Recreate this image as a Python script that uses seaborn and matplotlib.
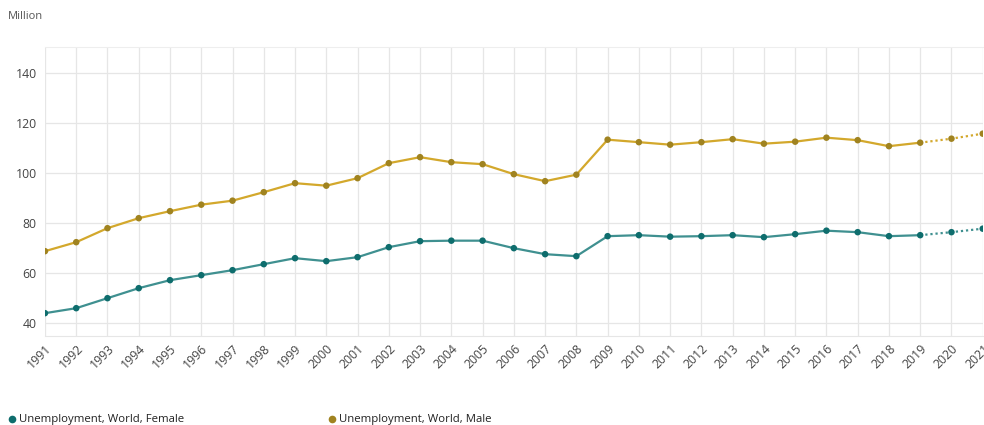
import pandas as pd
import matplotlib.pyplot as plt
import seaborn as sns
from matplotlib.lines import Line2D

years = list(range(1991, 2022))
female = [44.0, 46.0, 50.0, 54.0, 57.2, 59.2, 61.2, 63.6, 66.0, 64.8,
          66.4, 70.4, 72.8, 73.0, 73.0, 70.0, 67.6, 66.8, 74.8, 75.2,
          74.6, 74.8, 75.2, 74.4, 75.6, 77.0, 76.4, 74.8, 75.2, 76.4, 77.8]
male = [68.8, 72.4, 78.0, 82.0, 84.8, 87.4, 89.0, 92.4, 96.0, 95.0,
        98.0, 104.0, 106.4, 104.4, 103.6, 99.6, 96.8, 99.4, 113.4, 112.4,
        111.4, 112.4, 113.6, 111.8, 112.6, 114.2, 113.2, 110.8, 112.2, 113.8, 115.8]
last_actual = 2019

series = {
    'Unemployment, World, Female': (female, '#3f9090', '#0e6d6d'),
    'Unemployment, World, Male': (male, '#d3a82c', '#a08320'),
}

sns.set_style('white')
plt.rcParams['font.family'] = ['Open Sans', 'DejaVu Sans']

fig = plt.figure(figsize=(9.84, 4.25), dpi=100)
ax = fig.add_axes([0.0457, 0.209, 0.953, 0.680])

for name, (vals, line_col, dot_col) in series.items():
    df = pd.DataFrame({'year': years, 'value': vals})
    actual = df[df['year'] <= last_actual]
    proj = df[df['year'] >= last_actual]
    sns.lineplot(data=actual, x='year', y='value', color=line_col, lw=1.6, ax=ax)
    sns.lineplot(data=proj, x='year', y='value', color=line_col, lw=1.6,
                 linestyle=(0, (1, 1.3)), ax=ax)
    sns.scatterplot(data=df, x='year', y='value', color=dot_col, s=22,
                    edgecolor='none', zorder=5, ax=ax)

ax.set_xlim(1991, 2021)
ax.set_ylim(34.8, 150.4)
ax.set_xticks(years)
ax.set_xticklabels([str(y) for y in years], rotation=45, ha='right',
                   rotation_mode='anchor', fontsize=8.8, color='#444444')
ax.set_yticks([40, 60, 80, 100, 120, 140])
ax.tick_params(axis='y', labelsize=8.8, labelcolor='#444444', length=0, pad=6)
ax.tick_params(axis='x', length=0, pad=4)
ax.grid(True, color='#e6e6e6', lw=0.9)
ax.set_axisbelow(True)
ax.set_xlabel('')
ax.set_ylabel('')
for s in ax.spines.values():
    s.set_visible(False)
ax.spines['top'].set_visible(True)
ax.spines['top'].set_color('#eeeeee')
ax.spines['bottom'].set_visible(True)
ax.spines['bottom'].set_color('#e6e6e6')

fig.text(0.008, 0.962, 'Million', fontsize=8, color='#555555', va='center')

# legend along the bottom
leg_y = 0.013
for (name, (vals, line_col, dot_col)), x0 in zip(series.items(), [0.0122, 0.3375]):
    fig.add_artist(Line2D([x0], [leg_y], marker='o', ms=5.5, color=dot_col,
                          mec='none', transform=fig.transFigure))
    fig.text(x0 + 0.0068, leg_y, name, fontsize=8.2, color='#222222', va='center')

fig.savefig('out.png', dpi=100)
